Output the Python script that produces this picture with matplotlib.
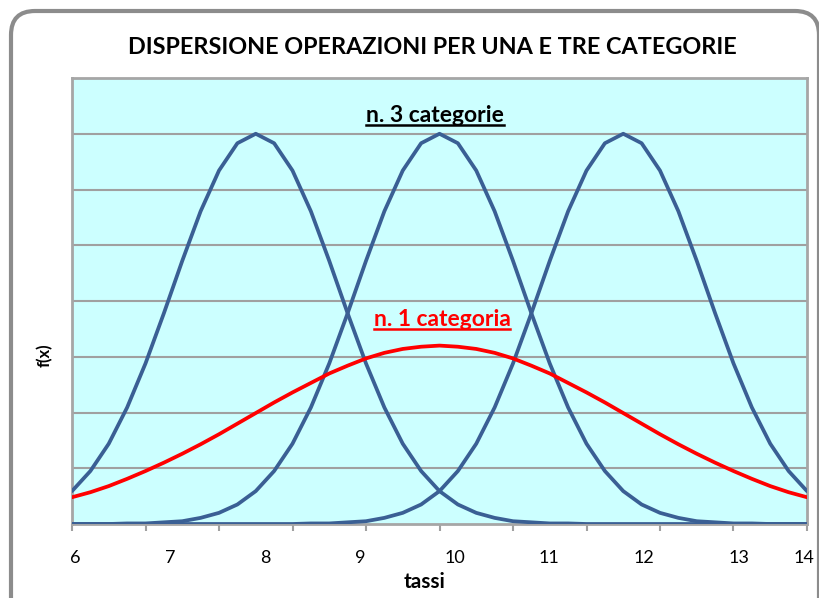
import matplotlib
matplotlib.use("Agg")
import matplotlib.pyplot as plt
from matplotlib.patches import FancyBboxPatch
from matplotlib.lines import Line2D
from matplotlib.transforms import IdentityTransform

# dati (passo 0.2 sull'asse dei tassi)
tassi = [round(6 + 0.2 * i, 1) for i in range(41)]

cat_a = [0.59, 0.95, 1.44, 2.09, 2.88, 3.78, 4.72, 5.61, 6.34, 6.83,
         7.00, 6.83, 6.34, 5.61, 4.72, 3.78, 2.88, 2.09, 1.44, 0.95,
         0.59, 0.35, 0.20, 0.11, 0.05, 0.03, 0.01, 0.01, 0.0, 0.0,
         0.0, 0.0, 0.0, 0.0, 0.0, 0.0, 0.0, 0.0, 0.0, 0.0, 0.0]
cat_b = [0.0, 0.0, 0.0, 0.01, 0.01, 0.03, 0.05, 0.11, 0.20, 0.35,
         0.59, 0.95, 1.44, 2.09, 2.88, 3.78, 4.72, 5.61, 6.34, 6.83,
         7.00, 6.83, 6.34, 5.61, 4.72, 3.78, 2.88, 2.09, 1.44, 0.95,
         0.59, 0.35, 0.20, 0.11, 0.05, 0.03, 0.01, 0.01, 0.0, 0.0, 0.0]
cat_c = [0.0, 0.0, 0.0, 0.0, 0.0, 0.0, 0.0, 0.0, 0.0, 0.0,
         0.0, 0.0, 0.0, 0.01, 0.01, 0.03, 0.05, 0.11, 0.20, 0.35,
         0.59, 0.95, 1.44, 2.09, 2.88, 3.78, 4.72, 5.61, 6.34, 6.83,
         7.00, 6.83, 6.34, 5.61, 4.72, 3.78, 2.88, 2.09, 1.44, 0.95, 0.59]
una_cat = [0.48, 0.57, 0.68, 0.81, 0.95, 1.10, 1.26, 1.43, 1.61, 1.80,
           1.99, 2.18, 2.36, 2.53, 2.70, 2.84, 2.97, 3.07, 3.14, 3.18,
           3.20, 3.18, 3.14, 3.07, 2.97, 2.84, 2.70, 2.53, 2.36, 2.18,
           1.99, 1.80, 1.61, 1.43, 1.26, 1.10, 0.95, 0.81, 0.68, 0.57, 0.48]

etichette_x = ['6', '7', '8', '9', '10', '11', '12', '13', '14']
pos_etichette = [6.03, 7.07, 8.10, 9.135, 10.17, 11.19, 12.23, 13.26, 13.97]

BLU = '#3a5f94'
ROSSO = '#ff0000'
FONT = 'Lato'

fig = plt.figure(figsize=(8.2, 5.98), dpi=100)
fig.patch.set_facecolor('white')

# cornice arrotondata stile Excel
cornice = FancyBboxPatch((11, -30), 808, 598 - 11 + 30,
                         boxstyle="round,pad=0,rounding_size=24",
                         transform=IdentityTransform(),
                         facecolor='none', edgecolor='#8c8c8c', linewidth=3)
fig.add_artist(cornice)

ax = fig.add_axes([72 / 820, 1 - 524 / 598, 735 / 820, 446 / 598])
ax.set_facecolor('#ccffff')

for y in range(1, 9):
    ax.axhline(y, color='#a0a0a0', lw=1.5, zorder=1)

for serie in (cat_a, cat_b, cat_c):
    ax.plot(tassi, serie, color=BLU, lw=2.7, zorder=3,
            solid_capstyle='round', solid_joinstyle='round')
ax.plot(tassi, una_cat, color=ROSSO, lw=2.7, zorder=4,
        solid_capstyle='round', solid_joinstyle='round')

ax.set_xlim(6, 14)
ax.set_ylim(0, 8)
ax.set_yticks([])

# tacche ogni 0.8, etichette a parte
ax.set_xticks([6 + 0.8 * i for i in range(11)])
ax.set_xticklabels([])
ax.tick_params(axis='x', which='major', length=5, width=1.5, color='#a0a0a0', direction='out')
ax.set_xticks(pos_etichette, minor=True)
ax.set_xticklabels(etichette_x, minor=True, fontfamily=FONT, fontsize=13)
ax.tick_params(axis='x', which='minor', length=0, pad=19)

for s in ax.spines.values():
    s.set_color('#a6a6a6')
    s.set_linewidth(2)

fig.text(432 / 820, 1 - 47 / 598, 'DISPERSIONE OPERAZIONI PER UNA E TRE CATEGORIE',
         ha='center', va='center', fontfamily=FONT, fontweight='bold', fontsize=16.8)

fig.text(425 / 820, 1 - 582 / 598, 'tassi', ha='center', va='center',
         fontfamily=FONT, fontweight='bold', fontsize=15)

fig.text(45 / 820, 1 - 355 / 598, 'f(x)', ha='center', va='center', rotation=90,
         fontfamily=FONT, fontweight='bold', fontsize=12)

t3 = fig.text(435 / 820, 1 - 116 / 598, 'n. 3 categorie', ha='center', va='center',
              fontfamily=FONT, fontweight='bold', fontsize=16.5, color='black')
t1 = fig.text(442 / 820, 1 - 320 / 598, 'n. 1 categoria', ha='center', va='center',
              fontfamily=FONT, fontweight='bold', fontsize=16.5, color=ROSSO)

# sottolineatura delle etichette
fig.canvas.draw()
r = fig.canvas.get_renderer()
for t, c in [(t3, 'black'), (t1, ROSSO)]:
    bb = t.get_window_extent(renderer=r)
    yline = bb.y0 + 2
    fig.add_artist(Line2D([bb.x0, bb.x1], [yline, yline], transform=IdentityTransform(),
                          color=c, lw=1.8))

fig.savefig('out.png', dpi=100)
